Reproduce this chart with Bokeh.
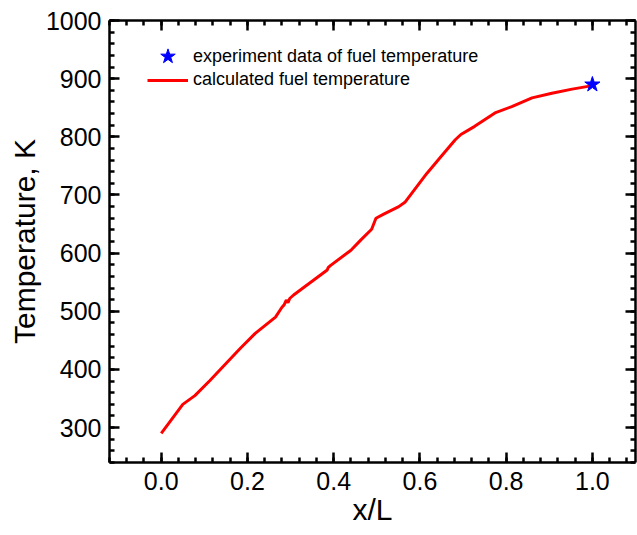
from bokeh.plotting import figure
from bokeh.models import (LinearAxis, SingleIntervalTicker, Range1d, Legend, LegendItem,
                          PrintfTickFormatter, CustomJSTickFormatter)
from bokeh.embed import file_html
from bokeh.resources import INLINE

# calculated fuel temperature (x/L, K)
x_calc = [0.0, 0.05, 0.078, 0.113, 0.183, 0.218, 0.265, 0.28, 0.285, 0.29, 0.294, 0.298,
          0.307, 0.385, 0.387, 0.393, 0.44, 0.462, 0.488, 0.498, 0.516, 0.551, 0.566,
          0.616, 0.65, 0.682, 0.695, 0.727, 0.774, 0.813, 0.86, 0.906, 0.953, 1.0]
t_calc = [290, 340, 355, 381, 436, 462, 490, 507, 511, 519, 515, 522,
          528, 571, 575, 579, 605, 622, 641, 660, 667, 680, 688,
          737, 767, 795, 804, 818, 841, 852, 867, 875, 882, 888]

# experiment data of fuel temperature
x_exp = [1.0]
t_exp = [890]

x_ticks_interval = 0.2
y_ticks_interval = 100

FONT = "Liberation Sans"

p = figure(width=637, height=535, output_backend="svg", toolbar_location=None,
           x_range=Range1d(-0.12, 1.1), y_range=Range1d(240, 1000),
           min_border_left=109, min_border_right=2, min_border_top=20, min_border_bottom=73,
           x_axis_label="x/L", y_axis_label="Temperature, K")
p.grid.visible = False
p.outline_line_color = None
p.background_fill_color = "white"

r_line = p.line(x_calc, t_calc, line_color="red", line_width=3)
r_star = p.scatter(x_exp, t_exp, marker="star", size=16, fill_color="blue", line_color="blue")

def style_axis(ax, labels=True):
    ax.axis_line_width = 2.5
    ax.axis_line_color = "black"
    ax.major_tick_line_width = 2.5
    ax.minor_tick_line_width = 2.5
    ax.major_tick_in = 10
    ax.major_tick_out = 0
    ax.minor_tick_in = 5
    ax.minor_tick_out = 0
    if labels:
        ax.major_label_text_font = FONT
        ax.major_label_text_font_size = "25px"
        ax.major_label_text_color = "black"
        ax.axis_label_text_font = FONT
        ax.axis_label_text_font_size = "30px"
        ax.axis_label_text_font_style = "normal"
        ax.axis_label_text_color = "black"
    else:
        ax.formatter = CustomJSTickFormatter(code="return ''")
        ax.major_label_standoff = 0
        ax.axis_label = None

p.xaxis.ticker = SingleIntervalTicker(interval=x_ticks_interval, num_minor_ticks=5)
p.yaxis.ticker = SingleIntervalTicker(interval=y_ticks_interval, num_minor_ticks=5)
p.xaxis[0].formatter = PrintfTickFormatter(format="%.1f")
style_axis(p.xaxis[0])
style_axis(p.yaxis[0])
p.xaxis[0].major_label_standoff = 9
p.xaxis[0].axis_label_standoff = 0
p.yaxis[0].major_label_standoff = 8
p.yaxis[0].axis_label_standoff = 2

top = LinearAxis(ticker=SingleIntervalTicker(interval=x_ticks_interval, num_minor_ticks=5))
right = LinearAxis(ticker=SingleIntervalTicker(interval=y_ticks_interval, num_minor_ticks=5))
style_axis(top, labels=False)
style_axis(right, labels=False)
p.add_layout(top, "above")
p.add_layout(right, "right")

def make_legend(item, loc, gh):
    lg = Legend(items=[item], location=loc)
    lg.label_text_font = FONT
    lg.label_text_font_size = "18px"
    lg.label_text_color = "black"
    lg.glyph_width = 41
    lg.glyph_height = gh
    lg.label_height = gh
    lg.label_standoff = 5
    lg.padding = 0
    lg.margin = 0
    lg.border_line_color = None
    lg.background_fill_alpha = 0
    return lg

lg1 = make_legend(LegendItem(label="experiment data of fuel temperature", renderers=[r_star]),
                  (38, 387), 38)
lg2 = make_legend(LegendItem(label="calculated fuel temperature", renderers=[r_line]),
                  (38, 372), 20)
p.add_layout(lg1, "center")
p.add_layout(lg2, "center")

open("out.html", "w").write(file_html(p, INLINE))
